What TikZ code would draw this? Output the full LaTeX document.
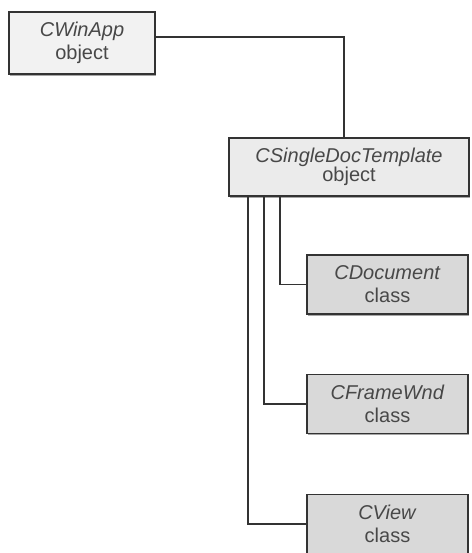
\documentclass[tikz,border=0pt]{standalone}
\usepackage{fontspec}
\setmainfont{Liberation Sans}
\usetikzlibrary{shadows}
\definecolor{boxline}{HTML}{333333}
\definecolor{boxtext}{HTML}{484848}
\begin{document}
\begin{tikzpicture}[x=1pt,y=-1pt,line width=1.7pt,draw=boxline,
  every node/.style={rectangle,draw=boxline,line width=1.9pt,text=boxtext,align=center,
    font=\fontsize{20}{23}\selectfont,inner sep=0pt,
    drop shadow={shadow xshift=1.2pt,shadow yshift=-1.6pt,fill=gray!70,opacity=1}},
  objbox/.style={fill=black!6},
  clsbox/.style={fill=black!15,minimum width=161pt,minimum height=59pt}]
\useasboundingbox (0,0) rectangle (471,553);
\node[objbox,fill=black!5,minimum width=146pt,minimum height=62pt] (win) at (82,43) {\textit{CWinApp}\\object};
\node[objbox,fill=black!8,minimum width=240pt,minimum height=58pt,font=\fontsize{20}{19}\selectfont] (tmpl) at (349,167) {\textit{CSingleDocTemplate}\\object};
\node[clsbox] (doc) at (387.5,284.5) {\textit{CDocument}\\class};
\node[clsbox] (frame) at (387.5,404) {\textit{CFrameWnd}\\class};
\node[clsbox] (view) at (387.5,524) {\textit{CView}\\class};
\draw ([yshift=6pt]win.east) -| ([xshift=-5pt]tmpl.north)
  ([xshift=52pt]tmpl.south west) |- (doc.west)
  ([xshift=36pt]tmpl.south west) |- (frame.west)
  ([xshift=20pt]tmpl.south west) |- (view.west);
\end{tikzpicture}
\end{document}
